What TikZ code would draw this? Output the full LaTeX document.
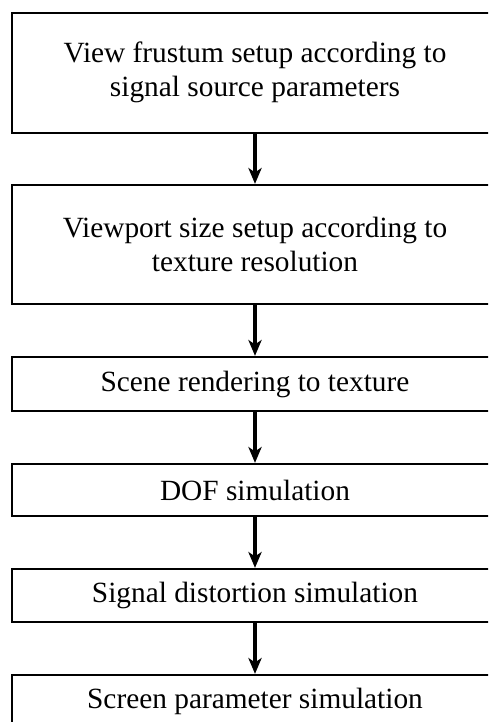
\documentclass[tikz,border=0pt]{standalone}
\usepackage{fontspec}
\setmainfont{Liberation Serif}
\usepackage{tikz}
\usetikzlibrary{arrows.meta,positioning}

\begin{document}
\begin{tikzpicture}[x=0.02cm, y=-0.02cm,
	every node/.style={rectangle,draw,line width=1.3pt,minimum width=9.72cm,align=center,inner sep=2pt,font=\fontsize{16.7}{19.3}\selectfont},
	flow/.style={line width=2pt,-{Stealth[length=9pt,width=7.5pt,inset=2.5pt]}}]
	
	\useasboundingbox (0,0) rectangle (488,722);
	\clip (0,0) rectangle (488,722);
	
	% Steps of the pipeline
	\node[minimum height=2.4cm] (1) at (255,72.7) {View frustum setup according to\\signal source parameters};
	\node[minimum height=2.38cm] (2) at (255,244.5) {Viewport size setup according to\\texture resolution};
	\node[minimum height=1.08cm] (3) at (255,384) {Scene rendering to texture};
	\node[minimum height=1.04cm] (4) at (255,490) {DOF simulation};
	\node[minimum height=1.06cm] (5) at (255,595.5) {Signal distortion simulation};
	\node[minimum height=1.06cm] (6) at (255,701.5) {Screen parameter simulation};
	
	% Arrows between steps
	\draw[flow] (1) -- (2);
	\draw[flow] (2) -- (3);
	\draw[flow] (3) -- (4);
	\draw[flow] (4) -- (5);
	\draw[flow] (5) -- (6);
	
\end{tikzpicture}
\end{document}
